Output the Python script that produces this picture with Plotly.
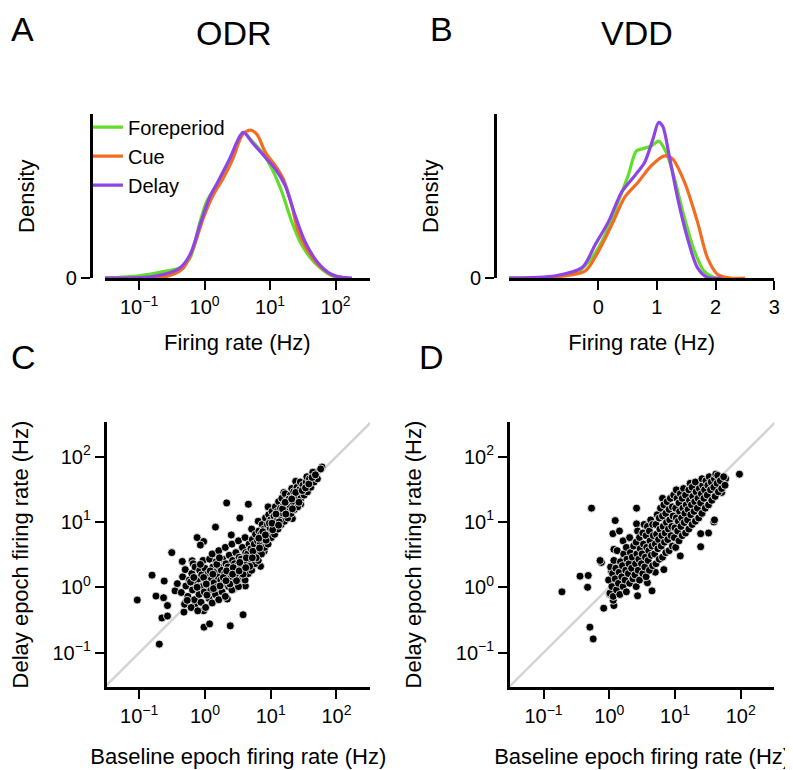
import plotly.graph_objects as go

W, H = 793, 770
FONT = "Helvetica, 'Liberation Sans', Arial, sans-serif"
GREEN, ORANGE, PURPLE = "#62dd2b", "#f26d22", "#8e44e6"
DIAG = "#d4d4d4"

# ---------------- Panel A (ODR) density curves: x = log10 firing rate (Hz), y = density (a.u.)
odr_fore_log10 = [-1.52, -1.0, -0.57, -0.37, -0.22, -0.07, 0.03, 0.18, 0.38, 0.6, 0.68, 0.88, 1.03, 1.18, 1.33, 1.48, 1.68, 1.88, 2.03, 2.2]
odr_fore_dens = [0, 0.014, 0.044, 0.064, 0.125, 0.345, 0.466, 0.566, 0.707, 0.89, 0.857, 0.767, 0.667, 0.526, 0.345, 0.205, 0.094, 0.028, 0.004, 0]
odr_cue_log10 = [-1.52, -0.67, -0.47, -0.32, -0.17, -0.02, 0.13, 0.28, 0.43, 0.58, 0.70, 0.80, 0.93, 1.08, 1.20, 1.33, 1.43, 1.58, 1.78, 1.98, 2.2]
odr_cue_dens = [0, 0.004, 0.024, 0.064, 0.185, 0.366, 0.506, 0.607, 0.727, 0.878, 0.904, 0.878, 0.767, 0.687, 0.607, 0.446, 0.285, 0.165, 0.064, 0.014, 0]
odr_delay_log10 = [-1.52, -0.9, -0.52, -0.37, -0.22, -0.07, 0.08, 0.2, 0.38, 0.59, 0.73, 0.93, 1.08, 1.23, 1.38, 1.53, 1.73, 1.93, 2.1, 2.25]
odr_delay_dens = [0, 0.004, 0.034, 0.064, 0.145, 0.325, 0.496, 0.586, 0.727, 0.89, 0.827, 0.737, 0.667, 0.566, 0.386, 0.225, 0.094, 0.024, 0.004, 0]

# ---------------- Panel B (VDD) density curves: x = firing rate on the printed axis (0..3)
vdd_fore_x = [-1.52, -0.725, -0.33, -0.105, 0.12, 0.34, 0.51, 0.65, 0.76, 0.905, 1.03, 1.16, 1.30, 1.47, 1.64, 1.80, 1.97, 2.2]
vdd_fore_dens = [0, 0.008, 0.044, 0.125, 0.265, 0.466, 0.627, 0.777, 0.791, 0.807, 0.837, 0.767, 0.607, 0.366, 0.165, 0.044, 0.004, 0]
vdd_cue_x = [-1.52, -0.725, -0.22, 0.005, 0.23, 0.455, 0.68, 0.905, 1.13, 1.27, 1.47, 1.69, 1.86, 2.03, 2.25, 2.5]
vdd_cue_dens = [0, 0.008, 0.044, 0.165, 0.325, 0.496, 0.586, 0.687, 0.747, 0.727, 0.586, 0.345, 0.125, 0.024, 0, 0]
vdd_delay_x = [-1.52, -0.725, -0.275, -0.05, 0.175, 0.40, 0.625, 0.79, 0.93, 1.03, 1.10, 1.21, 1.355, 1.52, 1.69, 1.86, 2.1]
vdd_delay_dens = [0, 0.014, 0.064, 0.205, 0.345, 0.526, 0.627, 0.707, 0.847, 0.952, 0.928, 0.747, 0.486, 0.245, 0.064, 0.004, 0]

# ---------------- Panel C (ODR) scatter: (log10 baseline rate, log10 delay rate)
odr_points_log10 = [
    (0.33, 1.29), (0.66, 1.27), (0.16, 0.92), (-0.505, 0.53), (-0.12, 0.76), (-0.02, 0.70), (-0.805, 0.185),
    (-0.62, 0.095), (-1.03, -0.195), (-0.745, -0.135), (-0.63, -0.16), (-0.57, -0.28), (-0.655, -0.47),
    (-0.57, -0.44), (-0.695, -0.87), (-0.015, -0.61), (0.07, -0.56), (0.385, -0.59), (0.58, -0.42),
    (0.615, 0.02), (0.445, -0.02), (0.34, -0.18), (0.50, 0.135), (0.845, 0.32), (-0.32, -0.38),
    (-0.455, -0.055), (-0.42, 0.055), (-0.345, 0.395), (-0.195, 0.405), (-0.07, 0.645), (1.455, 1.27),
    (1.33, 1.05), (-0.295, -0.23), (0.96, 1.23), (1.08, 1.12), (0.53, 1.06), (-0.02, -0.36), (-0.145, -0.26),
    (0.43, -0.03), (1.78, 1.84), (1.665, 1.76), (1.56, 1.67), (1.38, 1.62), (1.2, 1.45), (0.40, 0.80),
    (0.90, 0.55), (1.0, 0.75),
    (-0.36, -0.08), (-0.34, 0.16), (-0.31, -0.26), (-0.29, 0.02), (-0.30, 0.27), (-0.26, -0.14), (-0.24, 0.11),
    (-0.21, -0.31), (-0.19, -0.04), (-0.20, 0.21), (-0.18, 0.36), (-0.16, -0.19), (-0.14, 0.06), (-0.15, 0.31),
    (-0.11, -0.36), (-0.09, -0.11), (-0.10, 0.13), (-0.08, 0.26), (-0.06, -0.23), (-0.04, 0.01), (-0.05, 0.19),
    (-0.03, 0.41), (0.01, -0.31), (-0.01, -0.07), (0.02, 0.11), (0.00, 0.29), (0.06, -0.17), (0.04, 0.03),
    (0.05, 0.21), (0.07, 0.43), (0.11, -0.24), (0.09, -0.04), (0.10, 0.13), (0.12, 0.31), (0.11, 0.51),
    (0.16, -0.11), (0.14, 0.07), (0.15, 0.23), (0.17, 0.39), (0.21, -0.19), (0.19, 0.01), (0.20, 0.16),
    (0.22, 0.31), (0.21, 0.56), (0.26, -0.07), (0.24, 0.11), (0.25, 0.26), (0.27, 0.43), (0.31, -0.14),
    (0.29, 0.06), (0.30, 0.21), (0.32, 0.36), (0.31, 0.61), (0.36, 0.01), (0.34, 0.16), (0.35, 0.31),
    (0.37, 0.49), (0.41, -0.04), (0.39, 0.13), (0.40, 0.26), (0.42, 0.41), (0.41, 0.66), (0.46, 0.09),
    (0.44, 0.23), (0.45, 0.36), (0.47, 0.53), (0.51, 0.01), (0.49, 0.19), (0.50, 0.33), (0.52, 0.46),
    (0.51, 0.71), (0.56, 0.13), (0.54, 0.29), (0.55, 0.43), (0.57, 0.61), (0.61, 0.11), (0.59, 0.26),
    (0.60, 0.39), (0.62, 0.53), (0.61, 0.76), (0.66, 0.21), (0.64, 0.36), (0.65, 0.51), (0.67, 0.66),
    (0.71, 0.26), (0.69, 0.43), (0.70, 0.59), (0.72, 0.73), (0.71, 0.89), (0.76, 0.36), (0.74, 0.51),
    (0.75, 0.66), (0.77, 0.81), (0.81, 0.41), (0.79, 0.56), (0.80, 0.71), (0.82, 0.86), (0.81, 1.01),
    (0.86, 0.51), (0.84, 0.66), (0.85, 0.81), (0.87, 0.96), (0.91, 0.61), (0.89, 0.73), (0.90, 0.89),
    (0.92, 1.06), (0.96, 0.66), (0.94, 0.81), (0.95, 0.96), (0.97, 1.11), (1.01, 0.76), (0.99, 0.91),
    (1.00, 1.03), (1.02, 1.16), (1.06, 0.81), (1.04, 0.96), (1.05, 1.09), (1.07, 1.23), (1.11, 0.89),
    (1.09, 1.01), (1.10, 1.16), (1.12, 1.31), (1.16, 0.96), (1.14, 1.09), (1.15, 1.21), (1.17, 1.36),
    (1.21, 1.01), (1.19, 1.13), (1.20, 1.26), (1.22, 1.43), (1.26, 1.06), (1.24, 1.21), (1.25, 1.33),
    (1.31, 1.13), (1.29, 1.26), (1.30, 1.41), (1.32, 1.51), (1.36, 1.19), (1.34, 1.31), (1.35, 1.46),
    (1.41, 1.23), (1.39, 1.39), (1.40, 1.53), (1.46, 1.36), (1.44, 1.49), (1.45, 1.61), (1.51, 1.41),
    (1.49, 1.56), (1.56, 1.46), (1.54, 1.61), (1.55, 1.69), (1.61, 1.53), (1.59, 1.66), (1.66, 1.61),
    (1.64, 1.76), (1.71, 1.66), (1.76, 1.81),
    (-0.22, 0.08), (-0.12, 0.0), (-0.02, 0.15), (0.03, -0.12), (0.08, 0.25), (0.13, -0.02), (0.18, 0.35),
    (0.23, 0.02), (0.28, 0.15), (0.33, 0.25), (0.38, 0.05), (0.43, 0.3), (0.48, 0.1), (0.53, 0.38),
    (0.58, 0.2), (0.63, 0.45), (0.68, 0.32), (0.73, 0.55), (0.78, 0.45), (0.83, 0.6), (0.88, 0.85),
    (0.93, 0.72), (0.98, 0.98), (1.03, 0.88), (1.08, 1.12), (1.13, 1.0), (1.18, 1.2), (1.23, 1.12),
    (1.28, 1.35), (1.33, 1.2), (1.38, 1.45), (1.43, 1.3), (1.48, 1.48), (1.53, 1.52), (1.58, 1.58),
    (1.63, 1.68), (1.68, 1.72), (-0.27, -0.2), (-0.17, 0.15), (-0.07, 0.35), (0.02, 0.05), (0.12, 0.2),
    (0.22, 0.45), (0.32, 0.1), (0.42, 0.2), (0.52, 0.25), (0.62, 0.3), (0.72, 0.45), (0.82, 0.75),
    (0.92, 0.8), (1.02, 0.98), (1.12, 0.95), (1.22, 1.3), (1.32, 1.35),
]

# ---------------- Panel D (VDD) scatter: (log10 baseline rate, log10 delay rate)
vdd_points_log10 = [
    (-0.72, -0.07), (-0.445, 0.17), (-0.32, 0.18), (-0.33, 0.0), (-0.27, 1.21), (-0.295, -0.61),
    (-0.245, -0.79), (-0.085, -0.32), (0.07, -0.28), (0.06, -0.2), (-0.12, 0.38), (-0.14, 0.41),
    (0.08, 0.38), (0.07, 0.58), (0.055, 0.82), (0.155, 0.86), (0.09, 1.02), (0.415, 1.21), (0.415, 0.97),
    (0.30, 0.75), (0.03, 0.25), (0.005, -0.105), (0.43, -0.13), (0.65, -0.055), (0.70, 0.23), (0.83, 0.27),
    (0.81, 1.36), (1.39, 0.62), (1.51, 0.83), (1.39, 0.82), (1.59, 1.0), (1.98, 1.73), (1.77, 1.66),
    (1.71, 1.45), (1.72, 1.55), (1.53, 1.66), (0.58, 0.07), (0.22, 0.45), (1.08, 0.48), (1.6, 1.03),
    (0.01, -0.09), (-0.01, 0.11), (0.02, 0.31), (0.06, -0.14), (0.04, 0.01), (0.05, 0.21), (0.07, 0.41),
    (0.11, -0.04), (0.09, 0.13), (0.10, 0.29), (0.12, 0.56), (0.16, -0.11), (0.14, 0.06), (0.15, 0.23),
    (0.17, 0.39), (0.21, 0.01), (0.19, 0.16), (0.20, 0.33), (0.22, 0.51), (0.21, 0.71), (0.26, -0.07),
    (0.24, 0.11), (0.25, 0.26), (0.27, 0.43), (0.26, 0.61), (0.31, 0.06), (0.29, 0.21), (0.30, 0.36),
    (0.32, 0.53), (0.31, 0.76), (0.36, 0.13), (0.34, 0.29), (0.35, 0.46), (0.37, 0.63), (0.41, 0.01),
    (0.39, 0.19), (0.40, 0.36), (0.42, 0.51), (0.41, 0.69), (0.43, 0.86), (0.46, 0.11), (0.44, 0.26),
    (0.45, 0.43), (0.47, 0.59), (0.46, 0.76), (0.51, 0.21), (0.49, 0.36), (0.50, 0.51), (0.52, 0.66),
    (0.51, 0.83), (0.53, 0.96), (0.56, 0.16), (0.54, 0.31), (0.55, 0.46), (0.57, 0.61), (0.56, 0.79),
    (0.58, 0.93), (0.61, 0.26), (0.59, 0.41), (0.60, 0.56), (0.62, 0.71), (0.61, 0.86), (0.63, 1.03),
    (0.66, 0.33), (0.64, 0.49), (0.65, 0.63), (0.67, 0.79), (0.66, 0.96), (0.71, 0.36), (0.69, 0.51),
    (0.70, 0.66), (0.72, 0.81), (0.71, 0.96), (0.73, 1.11), (0.76, 0.43), (0.74, 0.59), (0.75, 0.73),
    (0.77, 0.89), (0.76, 1.06), (0.78, 1.21), (0.81, 0.46), (0.79, 0.63), (0.80, 0.79), (0.82, 0.93),
    (0.81, 1.09), (0.83, 1.26), (0.86, 0.53), (0.84, 0.69), (0.85, 0.83), (0.87, 0.99), (0.86, 1.13),
    (0.88, 1.31), (0.91, 0.56), (0.89, 0.73), (0.90, 0.89), (0.92, 1.03), (0.91, 1.19), (0.93, 1.36),
    (0.96, 0.63), (0.94, 0.79), (0.95, 0.93), (0.97, 1.09), (0.96, 1.23), (0.98, 1.41), (1.01, 0.61),
    (0.99, 0.76), (1.00, 0.91), (1.02, 1.06), (1.01, 1.21), (1.03, 1.36), (1.02, 1.49), (1.06, 0.71),
    (1.04, 0.86), (1.05, 1.01), (1.07, 1.16), (1.06, 1.29), (1.08, 1.43), (1.11, 0.79), (1.09, 0.93),
    (1.10, 1.06), (1.12, 1.21), (1.11, 1.36), (1.13, 1.51), (1.16, 0.83), (1.14, 0.99), (1.15, 1.13),
    (1.17, 1.26), (1.16, 1.41), (1.21, 0.89), (1.19, 1.03), (1.20, 1.19), (1.22, 1.33), (1.21, 1.49),
    (1.23, 1.59), (1.26, 0.96), (1.24, 1.11), (1.25, 1.26), (1.27, 1.39), (1.26, 1.53), (1.31, 1.01),
    (1.29, 1.16), (1.30, 1.31), (1.32, 1.46), (1.31, 1.61), (1.36, 1.06), (1.34, 1.21), (1.35, 1.36),
    (1.37, 1.51), (1.41, 1.13), (1.39, 1.29), (1.40, 1.43), (1.42, 1.56), (1.41, 1.66), (1.46, 1.21),
    (1.44, 1.36), (1.45, 1.49), (1.47, 1.63), (1.51, 1.26), (1.49, 1.41), (1.50, 1.56), (1.52, 1.69),
    (1.56, 1.33), (1.54, 1.49), (1.55, 1.61), (1.61, 1.39), (1.59, 1.53), (1.60, 1.66), (1.62, 1.73),
    (1.66, 1.46), (1.64, 1.59), (1.65, 1.71), (1.71, 1.51), (1.69, 1.63), (1.76, 1.56), (1.74, 1.69),
]

log_tickvals = [0.1, 1, 10, 100]
log_ticktext = ["10<sup>\u22121</sup>", "10<sup>0</sup>", "10<sup>1</sup>", "10<sup>2</sup>"]
vdd_tickvals = [0, 1, 2, 3]


def hz(vals):
    return [10 ** v for v in vals]


def fx(p):
    return p / W


def fy(p):
    return 1 - p / H


fig = go.Figure()

# A
for name, lx, d, col in [("Foreperiod", odr_fore_log10, odr_fore_dens, GREEN),
                         ("Cue", odr_cue_log10, odr_cue_dens, ORANGE),
                         ("Delay", odr_delay_log10, odr_delay_dens, PURPLE)]:
    fig.add_trace(go.Scatter(x=hz(lx), y=d, mode="lines", name=name, legendgroup=name,
                             line=dict(color=col, width=3.2, shape="spline", smoothing=0.8),
                             xaxis="x", yaxis="y"))
# B
for name, lx, d, col in [("Foreperiod", vdd_fore_x, vdd_fore_dens, GREEN),
                         ("Cue", vdd_cue_x, vdd_cue_dens, ORANGE),
                         ("Delay", vdd_delay_x, vdd_delay_dens, PURPLE)]:
    fig.add_trace(go.Scatter(x=lx, y=d, mode="lines", name=name, legendgroup=name, showlegend=False,
                             line=dict(color=col, width=3.2, shape="spline", smoothing=0.8),
                             xaxis="x2", yaxis="y2"))

# C and D
for pts, xa, ya in [(odr_points_log10, "x3", "y3"), (vdd_points_log10, "x4", "y4")]:
    fig.add_trace(go.Scatter(x=[10 ** -1.6, 10 ** 2.6], y=[10 ** -1.6, 10 ** 2.6], mode="lines",
                             line=dict(color=DIAG, width=2.5), showlegend=False, hoverinfo="skip",
                             xaxis=xa, yaxis=ya))
    fig.add_trace(go.Scatter(x=hz([p[0] for p in pts]), y=hz([p[1] for p in pts]), mode="markers",
                             marker=dict(size=8, color="black", line=dict(color="white", width=0.8)),
                             showlegend=False, xaxis=xa, yaxis=ya))

axis_common = dict(showline=True, linecolor="black", linewidth=3, ticks="outside", ticklen=9,
                   tickwidth=2, tickcolor="black", showgrid=False, zeroline=False,
                   tickfont=dict(size=20, color="black", family=FONT))
title_font = dict(size=22, color="black", family=FONT)

fig.update_layout(
    width=W, height=H, margin=dict(l=0, r=0, t=0, b=0),
    paper_bgcolor="white", plot_bgcolor="white",
    font=dict(family=FONT, color="black"),
    showlegend=True,
    legend=dict(x=fx(76), y=fy(101), xanchor="left", yanchor="top", bgcolor="rgba(0,0,0,0)",
                font=dict(size=20, family=FONT, color="black"), itemwidth=30,
                traceorder="grouped", tracegroupgap=0),
    xaxis=dict(domain=[fx(93), fx(362)], anchor="y", type="log", range=[-1.525, 2.525],
               tickvals=log_tickvals, ticktext=log_ticktext,
               title=dict(text="Firing rate (Hz)", font=title_font, standoff=18), **axis_common),
    yaxis=dict(domain=[fy(274), fy(108)], anchor="free", position=fx(79), range=[0, 1],
               tickvals=[0], ticktext=["0"],
               title=dict(text="Density", font=title_font, standoff=24), **axis_common),
    xaxis2=dict(domain=[fx(503), fx(772)], anchor="y2", range=[-1.52, 3.0], tickvals=vdd_tickvals,
                title=dict(text="Firing rate (Hz)", font=title_font, standoff=18), **axis_common),
    yaxis2=dict(domain=[fy(274), fy(108)], anchor="free", position=fx(489), range=[0, 1],
                tickvals=[0], ticktext=["0"],
                title=dict(text="Density", font=title_font, standoff=24), **axis_common),
    xaxis3=dict(domain=[fx(95), fx(362)], anchor="y3", type="log", range=[-1.495, 2.51],
                tickvals=log_tickvals, ticktext=log_ticktext,
                title=dict(text="Baseline epoch firing rate (Hz)", font=title_font, standoff=23), **axis_common),
    yaxis3=dict(domain=[fy(689), fy(420)], anchor="x3", type="log", range=[-1.528, 2.528],
                tickvals=log_tickvals, ticktext=log_ticktext,
                title=dict(text="Delay epoch firing rate (Hz)", font=title_font, standoff=29), **axis_common),
    xaxis4=dict(domain=[fx(504), fx(772)], anchor="y4", type="log", range=[-1.51, 2.51],
                tickvals=log_tickvals, ticktext=log_ticktext,
                title=dict(text="Baseline epoch firing rate (Hz)", font=title_font, standoff=23), **axis_common),
    yaxis4=dict(domain=[fy(689), fy(420)], anchor="x4", type="log", range=[-1.528, 2.528],
                tickvals=log_tickvals, ticktext=log_ticktext,
                title=dict(text="Delay epoch firing rate (Hz)", font=title_font, standoff=29), **axis_common),
)

# panel letters and titles: (text, x px, y px of box top, size)
labels = [("A", 10, 0, 34), ("ODR", 224, 4, 34), ("B", 435, 0, 34), ("VDD", 633, 4, 34),
          ("C", 11, 333, 34), ("D", 424, 333, 34)]
for text, x, y, size in labels:
    fig.add_annotation(text=text, x=fx(x), y=fy(y), xref="paper", yref="paper", showarrow=False,
                       xanchor="center", yanchor="top", font=dict(size=size, family=FONT, color="black"))

fig.write_html("out.html")
